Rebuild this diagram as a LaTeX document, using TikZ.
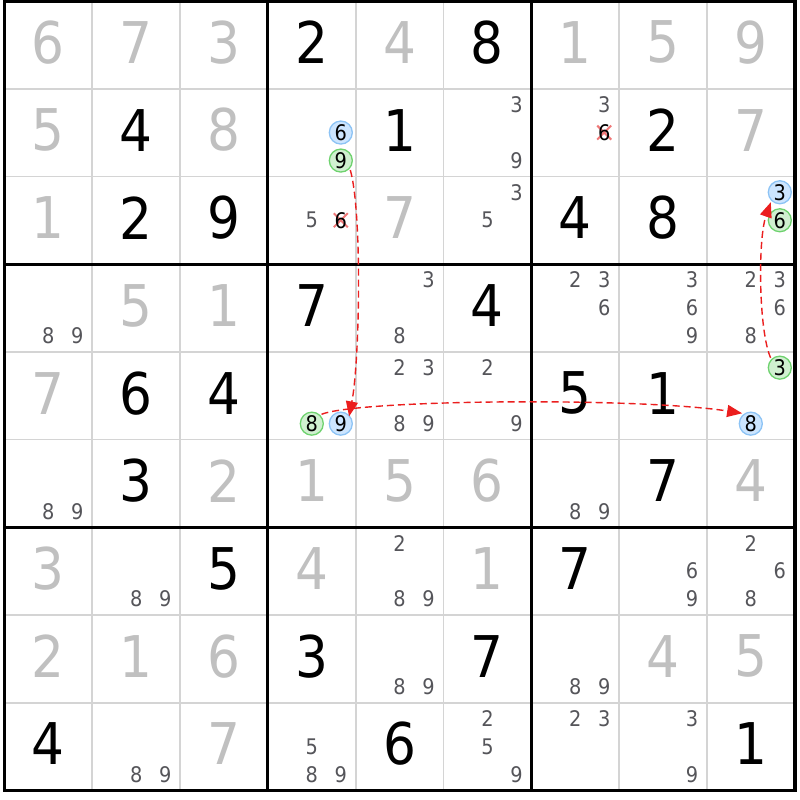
\documentclass[tikz,border=0pt]{standalone}
\usepackage{fontspec}
\setmainfont{DejaVu Sans Condensed}
\usetikzlibrary{arrows.meta}
\definecolor{solved}{RGB}{192,192,192}
\definecolor{cand}{RGB}{85,85,90}
\definecolor{thingrid}{RGB}{212,212,212}
\definecolor{bluefill}{RGB}{204,229,255}
\definecolor{blueline}{RGB}{140,195,245}
\definecolor{greenfill}{RGB}{208,240,208}
\definecolor{greenline}{RGB}{110,210,110}
\definecolor{chainred}{RGB}{235,30,30}
\definecolor{crossred}{RGB}{240,120,120}
\begin{document}
\begin{tikzpicture}[x=1pt,y=-1pt,
  given/.style={font=\fontsize{57.5}{57.5}\selectfont, text=black, inner sep=0pt},
  solvedd/.style={given, text=solved},
  cnd/.style={font=\fontsize{21.5}{21.5}\selectfont, text=cand, inner sep=0pt},
  crossd/.style={cnd, text=black},
  hl/.style={circle, inner sep=0pt, minimum size=23pt, line width=1.3pt, outer sep=2pt, font=\fontsize{21.5}{21.5}\selectfont, text=black},
  hlblue/.style={hl, draw=blueline, fill=bluefill},
  hlgreen/.style={hl, draw=greenline, fill=greenfill},
  xmark/.style={draw=crossred, line width=2pt},
  link/.style={draw=chainred, line width=1.4pt, dash pattern=on 7pt off 4pt, -{Triangle[length=15pt,width=12pt]}},
  thinline/.style={draw=thingrid, line width=1.8pt},
  thickline/.style={draw=black, line width=3pt},
  borderline/.style={draw=black, line width=3.6pt},
]
\useasboundingbox (0,0) rectangle (800,800);
\fill[white] (0,0) rectangle (800,800);
\def\gx{4.5}\def\gy{1}\def\cw{87.8}\def\ch{87.7}
% thin grid lines
\foreach \i in {1,2,4,5,7,8} {
  \draw[thinline] ({\gx+\i*\cw},\gy) -- ({\gx+\i*\cw},{\gy+9*\ch});
  \draw[thinline] (\gx,{\gy+\i*\ch}) -- ({\gx+9*\cw},{\gy+\i*\ch});
}
\foreach \i in {3,6} {
  \draw[thickline] ({\gx+\i*\cw},\gy) -- ({\gx+\i*\cw},{\gy+9*\ch});
  \draw[thickline] (\gx,{\gy+\i*\ch}) -- ({\gx+9*\cw},{\gy+\i*\ch});
}
\draw[borderline] (\gx,\gy) rectangle ({\gx+9*\cw},{\gy+9*\ch});
% given digits
\foreach \r/\c/\d in {0/3/2,0/5/8,1/1/4,1/4/1,1/7/2,2/1/2,2/2/9,2/6/4,2/7/8,3/3/7,3/5/4,4/1/6,4/2/4,4/6/5,4/7/1,5/1/3,5/7/7,6/2/5,6/6/7,7/3/3,7/5/7,8/0/4,8/4/6,8/8/1} {
  \node[given] (gv-\r-\c) at ({\gx+\c*\cw+\cw/2},{\gy+\r*\ch+\ch/2-2.5}) {\d};
}
% solved digits
\foreach \r/\c/\d in {0/0/6,0/1/7,0/2/3,0/4/4,0/6/1,0/7/5,0/8/9,1/0/5,1/2/8,1/8/7,2/0/1,2/4/7,3/1/5,3/2/1,4/0/7,5/2/2,5/3/1,5/4/5,5/5/6,5/8/4,6/0/3,6/3/4,6/5/1,7/0/2,7/1/1,7/2/6,7/7/4,7/8/5,8/2/7} {
  \node[solvedd] (sv-\r-\c) at ({\gx+\c*\cw+\cw/2},{\gy+\r*\ch+\ch/2-2.5}) {\d};
}
% candidates
\foreach \r/\c/\d in {1/5/3,1/5/9,1/6/3,2/3/5,2/5/3,2/5/5,3/0/8,3/0/9,3/4/3,3/4/8,3/6/2,3/6/3,3/6/6,3/7/3,3/7/6,3/7/9,3/8/2,3/8/3,3/8/6,3/8/8,4/4/2,4/4/3,4/4/8,4/4/9,4/5/2,4/5/9,5/0/8,5/0/9,5/6/8,5/6/9,6/1/8,6/1/9,6/4/2,6/4/8,6/4/9,6/7/6,6/7/9,6/8/2,6/8/6,6/8/8,7/4/8,7/4/9,7/6/8,7/6/9,8/1/8,8/1/9,8/3/5,8/3/8,8/3/9,8/5/2,8/5/5,8/5/9,8/6/2,8/6/3,8/7/3,8/7/9} {
  \pgfmathsetmacro\px{\gx+\c*\cw+\cw/2+(mod(\d-1,3)-1)*29}
  \pgfmathsetmacro\py{\gy+\r*\ch+\ch/2+(floor((\d-1)/3)-1)*28}
  \node[cnd] (cd-\r-\c-\d) at (\px,\py) {\d};
}
% crossed-out candidates
\foreach \r/\c in {1/6,2/3} {
  \coordinate (xc-\r-\c) at ({\gx+\c*\cw+\cw/2+29},{\gy+\r*\ch+\ch/2});
  \draw[xmark] (xc-\r-\c) +(-7,-7) -- +(7,7);
  \draw[xmark] (xc-\r-\c) +(-7,7) -- +(7,-7);
  \node[crossd] (xd-\r-\c) at (xc-\r-\c) {6};
}
% highlighted candidates
\node[hlblue]  (b6)  at ({\gx+3*\cw+\cw/2+29},{\gy+1*\ch+\ch/2}) {6};
\node[hlgreen] (g9)  at ({\gx+3*\cw+\cw/2+29},{\gy+1*\ch+\ch/2+28}) {9};
\node[hlblue]  (b3)  at ({\gx+8*\cw+\cw/2+29},{\gy+2*\ch+\ch/2-28}) {3};
\node[hlgreen] (g6)  at ({\gx+8*\cw+\cw/2+29},{\gy+2*\ch+\ch/2}) {6};
\node[hlgreen] (g8)  at ({\gx+3*\cw+\cw/2},{\gy+4*\ch+\ch/2+28}) {8};
\node[hlblue]  (b9)  at ({\gx+3*\cw+\cw/2+29},{\gy+4*\ch+\ch/2+28}) {9};
\node[hlgreen] (g3)  at ({\gx+8*\cw+\cw/2+29},{\gy+4*\ch+\ch/2-28}) {3};
\node[hlblue]  (b8)  at ({\gx+8*\cw+\cw/2},{\gy+4*\ch+\ch/2+28}) {8};
% chain links
\draw[link, shorten >=-3pt] (g9.-45) .. controls +(12,43) and +(10,-52) .. (b9.49);
\draw[link] (g8.44) .. controls +(38,-15) and +(-102,-16) .. (b8.130);
\draw[link] (g3.133) .. controls +(-12,-27) and +(-13,37) .. (b3.-132);
\end{tikzpicture}
\end{document}
